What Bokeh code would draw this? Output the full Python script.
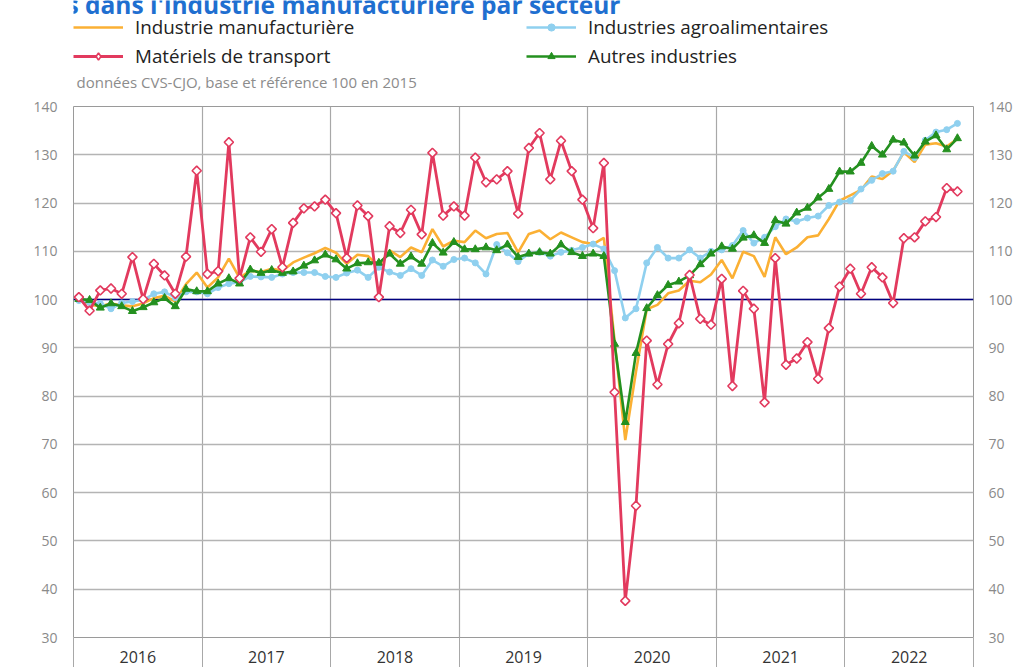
import numpy as np
from bokeh.plotting import figure
from bokeh.layouts import column
from bokeh.models import Range1d, FixedTicker, LinearAxis, Span, Label, Legend, LegendItem
from bokeh.embed import file_html
from bokeh.resources import INLINE

# ---- data (monthly, Jan 2016 .. Nov 2022), base 100 in 2015 ----
years = ["2016", "2017", "2018", "2019", "2020", "2021", "2022"]

industrie_manufacturiere = [
    100.2, 99.0, 98.6, 99.2, 98.8, 98.6, 99.2, 100.3, 100.8, 99.6, 103.2, 105.6,
    102.5, 104.6, 108.5, 104.5, 106.0, 105.7, 106.4, 106.0, 107.7, 108.7, 109.6, 110.7,
    109.7, 107.4, 109.3, 109.0, 106.9, 110.2, 108.8, 110.8, 109.8, 114.6, 111.0, 112.2,
    111.9, 114.3, 112.7, 113.6, 113.8, 109.8, 113.6, 114.3, 112.5, 113.9, 112.9, 111.9,
    111.5, 112.8, 91.5, 70.9, 85.1, 98.0, 98.9, 101.3, 101.9, 103.9, 103.6, 105.2,
    108.2, 104.4, 109.9, 109.0, 104.7, 112.9, 109.4, 110.8, 112.9, 113.3, 116.7, 120.5,
    121.6, 122.7, 125.5, 125.0, 126.7, 130.5, 128.5, 132.1, 132.4, 131.7, 133.3,
]
industries_agroalimentaires = [
    99.8, 99.4, 99.2, 98.1, 99.3, 99.6, 99.9, 101.2, 101.6, 100.4, 101.6, 101.6,
    101.2, 102.5, 103.3, 103.6, 104.8, 104.7, 104.6, 105.3, 105.6, 105.6, 105.6, 104.8,
    104.6, 105.5, 106.1, 104.6, 106.7, 105.7, 105.0, 106.4, 105.0, 108.2, 106.9, 108.3,
    108.6, 107.6, 105.3, 111.4, 109.7, 107.9, 109.5, 109.8, 109.0, 109.8, 110.2, 110.8,
    111.5, 110.5, 106.0, 96.2, 98.1, 107.6, 110.8, 108.6, 108.6, 110.3, 108.6, 110.0,
    110.3, 111.2, 114.3, 111.7, 112.9, 115.1, 116.7, 116.2, 116.9, 117.3, 119.5, 120.2,
    120.5, 122.9, 124.7, 126.1, 126.6, 130.7, 129.4, 133.0, 134.7, 135.2, 136.5,
]
materiels_de_transport = [
    100.5, 97.7, 101.9, 102.3, 101.2, 108.8, 100.1, 107.4, 105.0, 101.2, 108.9, 126.7,
    105.3, 105.9, 132.6, 104.4, 112.9, 109.9, 114.6, 106.7, 115.9, 118.9, 119.3, 120.7,
    117.9, 108.6, 119.5, 117.3, 100.5, 115.2, 113.8, 118.6, 113.5, 130.4, 117.4, 119.3,
    117.4, 129.4, 124.3, 124.9, 126.6, 117.8, 131.4, 134.5, 124.9, 132.9, 126.6, 120.7,
    114.8, 128.3, 80.8, 37.6, 57.3, 91.5, 82.4, 90.8, 95.1, 105.1, 96.0, 94.8,
    104.3, 82.1, 101.8, 98.1, 78.7, 108.6, 86.5, 87.8, 91.2, 83.6, 94.1, 102.7,
    106.4, 101.2, 106.7, 104.6, 99.3, 112.7, 112.9, 116.2, 117.1, 123.1, 122.4,
]
autres_industries = [
    100.1, 99.9, 98.3, 99.2, 98.6, 97.6, 98.4, 99.4, 100.3, 98.6, 102.2, 101.7,
    101.7, 103.3, 104.4, 103.3, 106.2, 105.5, 106.1, 105.5, 105.8, 107.0, 108.1, 109.3,
    108.3, 106.4, 107.5, 107.7, 107.6, 109.5, 107.4, 108.9, 107.4, 111.7, 109.7, 111.9,
    110.4, 110.4, 110.8, 110.2, 111.4, 108.8, 109.5, 109.8, 109.5, 111.4, 109.8, 109.0,
    109.5, 109.0, 90.8, 74.6, 88.9, 98.2, 100.9, 103.0, 103.7, 105.0, 107.3, 109.5,
    111.0, 110.5, 112.8, 113.3, 111.7, 116.4, 115.7, 118.0, 119.0, 121.1, 122.9, 126.5,
    126.5, 128.3, 131.8, 130.0, 133.1, 132.5, 129.8, 132.7, 134.0, 131.1, 133.4,
]
y_ticks = [30, 40, 50, 60, 70, 80, 90, 100, 110, 120, 130, 140]

# month index -> middle of the month
months = [i + 0.5 for i in range(len(materiels_de_transport))]
n_months = 12 * len(years)
year_bounds = list(range(0, n_months + 1, 12))
year_centers = [b + 6 for b in year_bounds[:-1]]

ORANGE = "#fbb034"
BLUE = "#8fd0ef"
RED = "#e23a5e"
GREEN = "#24901f"
FONT = "Open Sans"

STYLE = {
    "manuf": dict(line_color=ORANGE, line_width=2.6),
    "agro": dict(line_color=BLUE, line_width=2.6),
    "autres": dict(line_color=GREEN, line_width=2.6),
    "transport": dict(line_color=RED, line_width=2.8),
}
MARK = {
    "agro": dict(marker="circle", size=6, fill_color=BLUE, line_color=BLUE),
    "autres": dict(marker="triangle", size=8, fill_color=GREEN, line_color=GREEN),
    "transport": dict(marker="square", angle=np.pi / 4, size=6.5, fill_color="white",
                      line_color=RED, line_width=1.6),
}

# ================= header: title, legend, subtitle =================
# header frame is aligned with the chart frame (x 73..973); the x range is offset by
# 1000 so the series drawn here stay out of view and only feed the legend
XOFF = 1000
head = figure(width=1021, height=94, output_backend="svg", toolbar_location=None,
              title=None, x_range=Range1d(73 + XOFF, 973 + XOFF), y_range=Range1d(94, 0),
              x_axis_location=None, y_axis_location=None,
              min_border=0, min_border_left=0, min_border_right=0,
              min_border_top=0, min_border_bottom=0)
head.outline_line_color = None
head.xgrid.visible = False
head.ygrid.visible = False

legend_marks = dict(MARK)
legend_marks["transport"] = dict(marker="diamond", size=9, fill_color="white",
                                 line_color=RED, line_width=1.6)

h_or = head.line(months, industrie_manufacturiere, **STYLE["manuf"])
h_bl = head.line(months, industries_agroalimentaires, **STYLE["agro"])
h_bls = head.scatter(months, industries_agroalimentaires, **legend_marks["agro"])
h_gr = head.line(months, autres_industries, **STYLE["autres"])
h_grs = head.scatter(months, autres_industries, **legend_marks["autres"])
h_rd = head.line(months, materiels_de_transport, **STYLE["transport"])
h_rds = head.scatter(months, materiels_de_transport, **legend_marks["transport"])


def make_legend(items, vy):
    lg = Legend(items=items, orientation="horizontal", location=(0, vy))
    lg.padding = 0
    lg.margin = 0
    lg.spacing = 3
    lg.glyph_width = 50
    lg.glyph_height = 18
    lg.label_height = 26
    lg.label_width = 388
    lg.label_standoff = 12
    lg.label_text_font = FONT
    lg.label_text_font_size = "18.8px"
    lg.label_text_color = "#222222"
    lg.border_line_color = None
    lg.background_fill_alpha = 0
    return lg


head.add_layout(make_legend([
    LegendItem(label="Industrie manufacturière", renderers=[h_or]),
    LegendItem(label="Industries agroalimentaires", renderers=[h_bl, h_bls]),
], 54), "center")
head.add_layout(make_legend([
    LegendItem(label="Matériels de transport", renderers=[h_rd, h_rds]),
    LegendItem(label="Autres industries", renderers=[h_gr, h_grs]),
], 25), "center")

head.add_layout(Label(x=620 + XOFF, y=4,
                      text="Chiffres d'affaires dans l'industrie manufacturière par secteur",
                      text_font=FONT, text_font_size="24.5px", text_font_style="bold",
                      text_color="#1f6fd0", text_align="right", text_baseline="alphabetic"))
head.add_layout(Label(x=76 + XOFF, y=81,
                      text="données CVS-CJO, base et référence 100 en 2015",
                      text_font=FONT, text_font_size="15px", text_color="#8c8c8c",
                      text_baseline="alphabetic"))

# ================= main chart =================
p = figure(width=1021, height=573, output_backend="svg", toolbar_location=None,
           title=None,
           x_range=Range1d(0, n_months), y_range=Range1d(30, 140),
           min_border_left=73, min_border_right=48, min_border_top=12, min_border_bottom=30)
p.outline_line_color = "#9a9a9a"
p.outline_line_width = 1

p.ygrid.ticker = FixedTicker(ticks=y_ticks)
p.ygrid.grid_line_color = "#b4b4b4"
p.ygrid.grid_line_width = 1.3
p.xgrid.ticker = FixedTicker(ticks=year_bounds)
p.xgrid.grid_line_color = "#a8a8a8"
p.xgrid.grid_line_width = 1.2

yax = p.yaxis[0]
yax.ticker = FixedTicker(ticks=y_ticks)
right = LinearAxis(ticker=FixedTicker(ticks=y_ticks))
p.add_layout(right, "right")
for ax in (yax, right):
    ax.axis_line_color = None
    ax.major_tick_line_color = None
    ax.minor_tick_line_color = None
    ax.major_label_text_font = FONT
    ax.major_label_text_font_size = "14px"
    ax.major_label_text_color = "#8a8a8a"
yax.major_label_standoff = 10
right.major_label_standoff = 9

xax = p.xaxis[0]
xax.ticker = FixedTicker(ticks=year_centers, minor_ticks=year_bounds)
xax.major_label_overrides = {c: y for c, y in zip(year_centers, years)}
xax.axis_line_color = None
xax.major_tick_line_color = None
xax.major_tick_out = 0
xax.major_tick_in = 0
xax.minor_tick_line_color = "#a8a8a8"
xax.minor_tick_out = 30
xax.minor_tick_in = 0
xax.major_label_standoff = -17
xax.major_label_text_font = FONT
xax.major_label_text_font_size = "16px"
xax.major_label_text_color = "#333333"

p.add_layout(Span(location=100, dimension="width", line_color="#000080",
                  line_width=1.5, level="underlay"))

p.line(months, industrie_manufacturiere, **STYLE["manuf"])
p.line(months, industries_agroalimentaires, **STYLE["agro"])
p.scatter(months, industries_agroalimentaires, **MARK["agro"])
p.line(months, autres_industries, **STYLE["autres"])
p.scatter(months, autres_industries, **MARK["autres"])
p.line(months, materiels_de_transport, **STYLE["transport"])
p.scatter(months, materiels_de_transport, **MARK["transport"])

layout = column(head, p, spacing=0)
open("out.html", "w").write(file_html(layout, INLINE))
